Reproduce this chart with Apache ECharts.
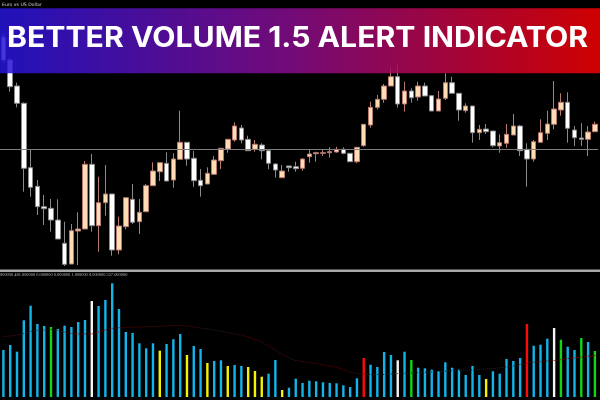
<!DOCTYPE html>
<html>
<head>
<meta charset="utf-8">
<script src="https://cdn.jsdelivr.net/npm/echarts@6/dist/echarts.min.js"></script>
<style>
html,body{margin:0;padding:0;background:#000;}
#c{width:600px;height:400px;}
</style>
</head>
<body>
<div id="c"></div>
<script>
// ---- data (price units are arbitrary chart units) ----
const opens  = [263,240,214,196.7,132.3,113.7,93.3,91.7,80,56.7,36,69,71,135.7,74.3,97.3,106,50,73.3,100.7,78.3,88.3,114.3,128.3,136.7,120,140.7,157.7,141.7,119.7,116,125.7,139.3,151,160,172,160.7,150.7,155,149.3,136,122.3,134,133.3,131.7,143.3,146.3,146.7,147.3,148,150.7,146.7,138.3,154.3,175,192.7,200.7,214,223.3,196,209,203,214,204.3,189,201.7,217.3,206.7,189.3,194,167.3,171,169,154,156.7,165,174,150.7,141,157.7,166.7,175.7,190,197.7,170,162,160.7,168.3];
const closes = [240,213.3,196.7,131.7,112.7,93.3,91.3,80,61,35.7,69.3,71,135.7,74.3,97.3,106,50,74,102.3,77.7,87.7,114.3,129,137.3,119,141,157.7,141,119.3,114.3,126.7,140,151.7,160.7,174,160,149.3,155.7,149.3,136.7,130,129,132.3,131.3,141,146,147.3,147.3,148.3,150.7,146.7,138.3,152.7,175.7,192.7,200.7,214,223.3,196,209,202.3,214,204,189,201,217.3,206.7,190,194,167.3,170.7,168.3,154.3,157.3,165.7,174,149.3,141,158.3,167.3,176,191,197.7,171.7,162.3,160.7,168,175.7];
const lows   = [237,208.3,192.7,108.3,103.3,85,75,68.3,61,34,36,35,71,68.3,48.3,84.3,44.3,45.7,70.7,76,66,88.3,114.3,119,119,112.3,140.7,134.3,113.3,103.3,116,125.7,131,147.3,158.3,156.7,149.3,148.3,140.7,130.7,122.3,122.3,128.3,128.3,129.3,137.3,138.3,144,142.3,147.3,145.7,138.3,136.7,153.3,172.3,190.7,197.3,214,192.3,188.3,197.3,199.3,204,189,189,200,206.7,179.3,187.3,157.3,160,166,152.7,147.3,152.3,165,144,113.3,138.3,157.7,160,170.7,184.3,157.3,154,154,144,168.3];
const highs  = [267,242,217.3,197.7,150,120,105,101,100.7,78.3,76,87.7,139,146,123.3,135,106,83.3,102.3,116,101,116,137.7,137.3,147.7,146.7,189.3,157.7,149,131,132.7,144,151.7,160.7,177.7,175,164.3,160,156.7,149.3,136.7,135,134,138.3,141.7,151,148.3,150.7,152.7,153.3,152.7,146.7,152.7,175.7,198.3,205,216,232.7,235,218.3,211.7,218.3,217.3,204.3,209,226.7,223.3,206.7,196.7,194,175,176,169,165.7,176,186,175,156.7,160,180.7,189.3,219,206.7,207.7,174,176.7,174,178.3];
const priceLine = 150.5;

const volumes = [47,52,45.3,76.7,91.3,73,71,70,68,71.3,70,75,77,96,91,97,113.7,88,65,64,53.7,48.7,53.7,46.3,53,57.7,63,42,51,48,34,36,36.7,31,32,31,30,26,20.3,23.3,37,7,9.3,18.3,14,16.3,15.7,14.7,14,13.7,11.7,10,18.7,39,32.3,30,45,42,36.7,45.3,37,29.3,28.7,27.3,26,34.7,29.3,27.3,22,31,22,18,25.7,23.3,38,36,39,73,51.3,52.3,58.3,69,57.3,50.3,47,59,55,46];
// bar state codes: b=normal, g=green, y=yellow, r=red, w=white
const volState = ['b','b','b','b','b','b','b','g','b','b','b','b','b','w','b','b','b','b','b','b','b','b','b','y','b','b','b','y','b','b','y','b','b','y','b','b','y','y','y','b','b','y','b','b','b','b','b','b','b','b','b','b','b','r','b','b','b','b','w','b','g','b','b','b','b','b','b','b','b','b','b','y','b','b','b','b','b','r','b','b','b','w','g','b','b','g','b','g'];
const volAvg = [60.5,61,62,63.5,65.5,66.5,67,67.5,66.5,65,63.5,63,63,63,65,67,68.5,69.3,69.7,69.8,70,70.2,70.6,70.7,71,71.5,71.7,71,70,69,68,67,66,64.5,63,62,60,57.5,55,51,47,43,39,36.5,35.5,34.5,33.5,32.2,31,29.5,27.5,25,23.5,22.7,22.5,22.5,22.5,23,23.5,23.7,24,24.3,24.7,25,25.5,25.8,26.2,26.6,26.8,27,27.5,28,28.5,29.2,30,31,32.5,34,34.7,35.2,36,36.5,37.3,38.5,39.2,39.8,40.7,41.5];

const categories = opens.map((_, i) => String(i + 1));
const titleText = 'BETTER VOLUME 1.5 ALERT INDICATOR';
const symbolText = 'Euro vs US Dollar';
const indText = '000000 481.000000 0.000000 0.000000 1.000000 0.000000 557.000000';

// ---- styles ----
const stateColor = {b:'#12b4ea', g:'#11d611', y:'#f2f200', r:'#ff0a0a', w:'#f4f4f4'};

const chart = echarts.init(document.getElementById('c'), null, {renderer:'canvas'});

// measure title to stretch it to the banner width
const cv = document.createElement('canvas').getContext('2d');
const titleFont = '700 28px Inter';
cv.font = titleFont;
const tw = cv.measureText(titleText).width || 520;
const sx = 581 / tw;

const option = {
  backgroundColor: '#000',
  animation: false,
  grid: [
    {left: -1.7, right: 1.7, top: 0, height: 270},
    {left: -1.7, right: 1.7, top: 280, height: 117}
  ],
  xAxis: [
    {type:'category', data: categories, gridIndex:0, show:false, boundaryGap:true},
    {type:'category', data: categories, gridIndex:1, show:false, boundaryGap:true}
  ],
  yAxis: [
    {type:'value', gridIndex:0, min:30, max:300, show:false},
    {type:'value', gridIndex:1, min:0, max:117, show:false}
  ],
  series: [
    {
      type:'candlestick', xAxisIndex:0, yAxisIndex:0,
      barWidth: 5,
      data: opens.map((o, i) => [o, closes[i], lows[i], highs[i]]),
      itemStyle: {color:'#ffdcb2', color0:'#ffffff', borderColor:'#b77a70', borderColor0:'#8a8a8a', borderWidth:1},
      markLine: {
        silent:true, symbol:['none','none'], label:{show:false},
        lineStyle:{color:'#7d7d7d', width:1, type:'solid'},
        data:[{yAxis: priceLine}]
      }
    },
    {
      type:'bar', xAxisIndex:1, yAxisIndex:1, barWidth: 2.4,
      data: volumes.map((v, i) => ({value: v, itemStyle:{color: stateColor[volState[i]]}}))
    },
    {
      type:'line', xAxisIndex:1, yAxisIndex:1, data: volAvg,
      symbol:'none', smooth:false,
      lineStyle:{color:'#5e0808', width:1, type:'dotted'}, z:5
    }
  ],
  graphic: [
    {type:'rect', z:100, shape:{x:0, y:269.6, width:600, height:2.4}, style:{fill:'#a9a9a9'}},
    {type:'text', z:100, x:0, y:273, style:{text: indText, fill:'#bdbdbd', font:'4.4px "Liberation Sans Narrow"', textVerticalAlign:'top'}},
    {type:'rect', z:100, shape:{x:0, y:0, width:600, height:8.3}, style:{fill:'#000'}},
    {type:'text', z:101, x:2, y:1.8, style:{text: symbolText, fill:'#cfcfcf', font:'4.6px "DejaVu Sans"', textVerticalAlign:'top'}},
    {type:'rect', z:100, shape:{x:0, y:8.3, width:600, height:65}, style:{
      opacity:0.86,
      fill: new echarts.graphic.LinearGradient(0,0,1,0,[
        {offset:0, color:'#2614d8'},
        {offset:0.5, color:'#880c88'},
        {offset:1, color:'#f00000'}
      ])
    }},
    {type:'text', z:102, x:297.5, y:39, scaleX: sx, style:{
      text: titleText, fill:'#ffffff', font: titleFont,
      textAlign:'center', textVerticalAlign:'middle'
    }}
  ]
};
chart.setOption(option);
</script>
</body>
</html>
